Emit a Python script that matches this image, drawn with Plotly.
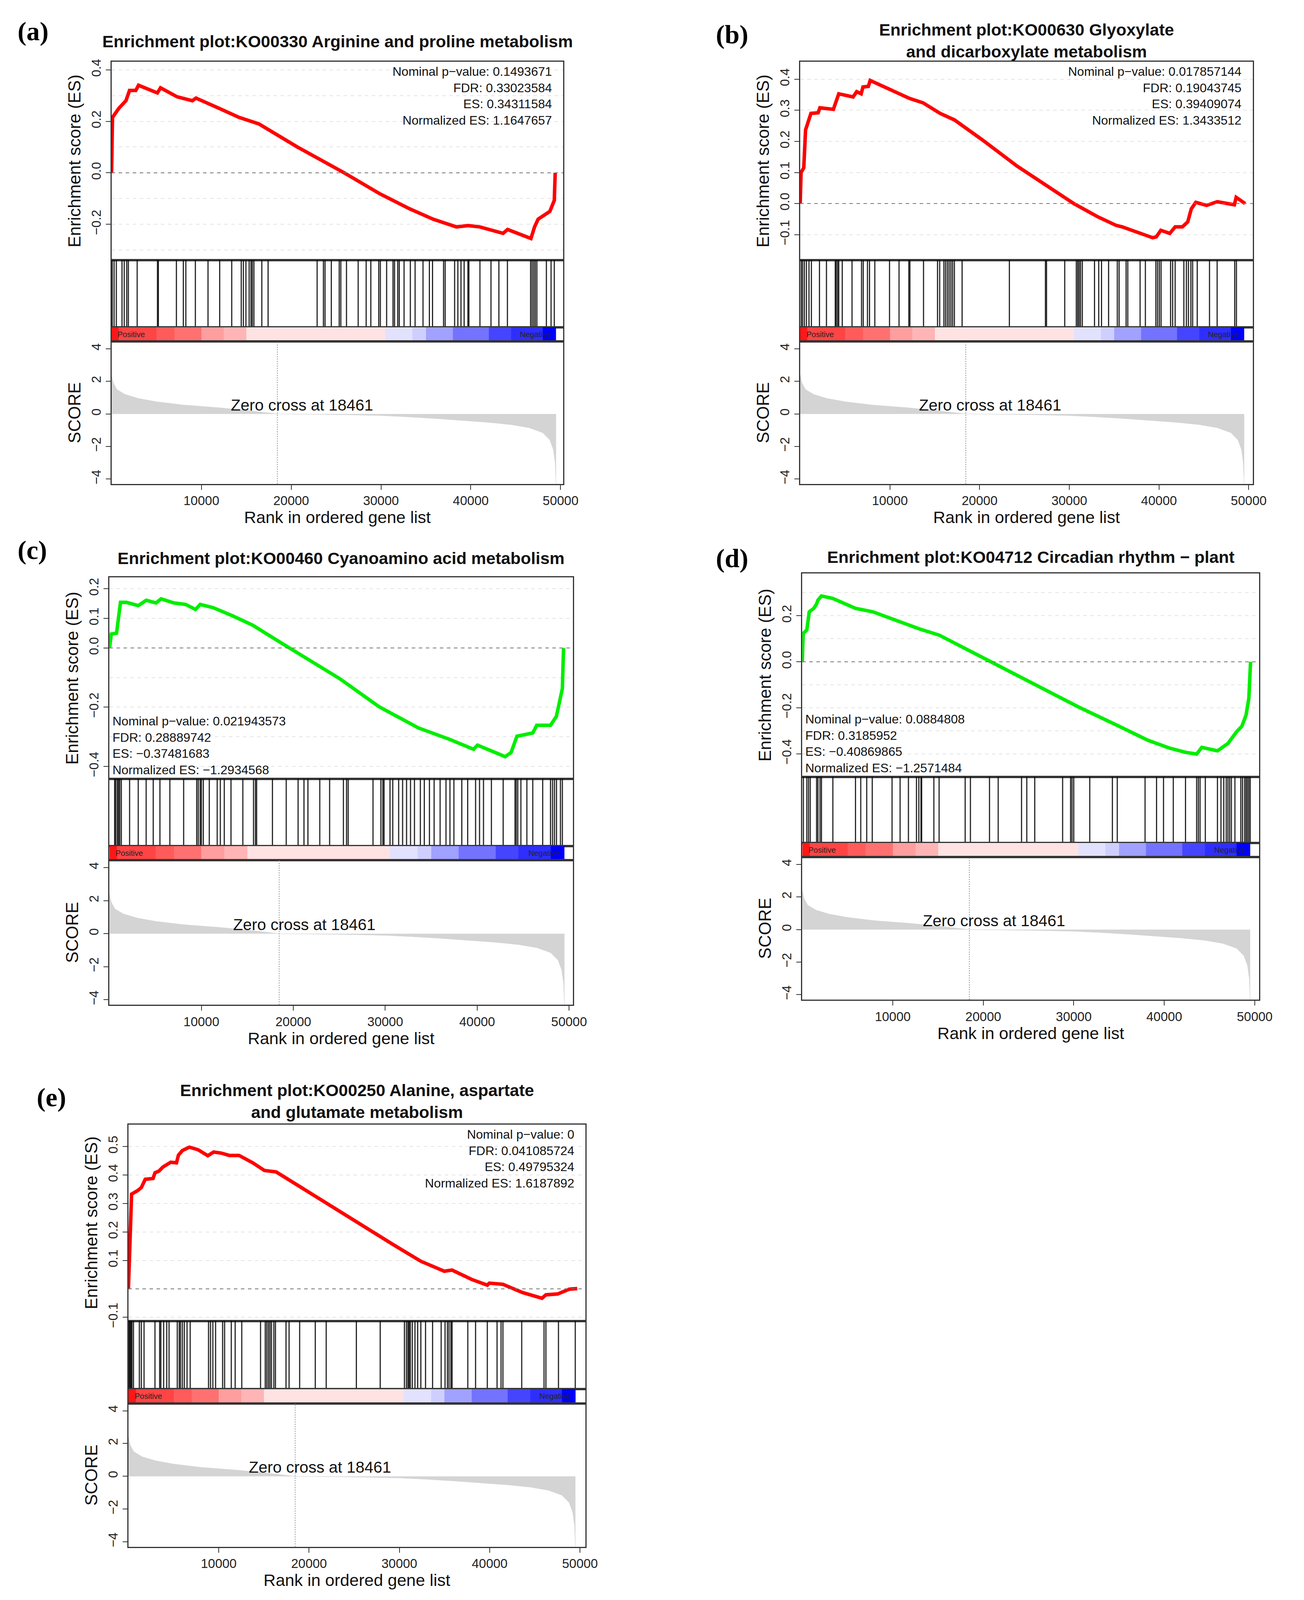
"""GSEA enrichment plots (a)-(e) rebuilt with plotly"""

import plotly.graph_objects as go

# ---- data ----
es_rank_a = [0, 100, 800, 1600, 2000, 2700, 3000, 5100, 5450, 7300, 9000, 9400, 12000, 14200, 16400, 20700, 25900, 29800,
             33200, 35800, 37100, 38400, 39700, 41000, 43600, 44100, 46700, 47100, 47500, 48800, 49300, 49400]
es_val_a = [0, 0.215, 0.25, 0.28, 0.32, 0.32, 0.34, 0.31, 0.33, 0.295, 0.28, 0.29, 0.25, 0.215, 0.19, 0.10, 0, -0.08,
            -0.14, -0.18, -0.195, -0.21, -0.205, -0.21, -0.235, -0.22, -0.255, -0.21, -0.18, -0.15, -0.107, 0]
hits_a = [70, 280, 530, 1160, 1410, 1690, 1870, 2850, 5110, 5210, 7220, 7990, 8270, 9330, 10740, 12040, 13380, 14440,
          14680, 14960, 15320, 15530, 15670, 15850, 16730, 17430, 22890, 23590, 23770, 24470, 25350, 25530, 26160,
          27460, 28350, 28870, 29750, 29930, 30630, 31340, 31510, 31870, 32040, 32570, 33270, 33800, 34680, 35390,
          35740, 36970, 37150, 38200, 38560, 38910, 39260, 39680, 39790, 41020, 42250, 43130, 44080, 46660, 46830,
          47010, 47180, 47360, 48420, 48940, 49300]

es_rank_b = [0, 100, 400, 600, 1200, 2000, 2200, 3700, 4300, 5900, 6300, 6800, 7000, 7600, 7800, 8600, 10200, 12200,
             13700, 15600, 17200, 20300, 24200, 28100, 30500, 33200, 35200, 35900, 37900, 39300, 39700, 40200, 41200,
             41800, 42600, 43200, 43600, 44100, 45300, 46500, 48400, 48600, 49600]
es_val_b = [0, 0.1, 0.115, 0.237, 0.29, 0.292, 0.308, 0.303, 0.353, 0.343, 0.36, 0.353, 0.375, 0.377, 0.396, 0.385,
            0.364, 0.338, 0.324, 0.29, 0.269, 0.205, 0.12, 0.047, 0, -0.043, -0.07, -0.075, -0.096, -0.11, -0.107,
            -0.086, -0.096, -0.075, -0.075, -0.059, -0.017, 0.004, -0.006, 0.006, -0.004, 0.02, 0]
hits_b = [120, 270, 470, 700, 980, 1250, 2150, 2930, 3910, 4020, 4180, 4300, 4690, 5780, 6840, 7030, 7500, 7730, 8320,
          9960, 11020, 12110, 12230, 13750, 15310, 15550, 16020, 16210, 16410, 16600, 16800, 16990, 17190, 18050,
          23320, 27340, 27460, 29490, 30780, 30940, 31090, 31250, 31450, 32810, 33280, 33590, 34380, 35350, 35550,
          36330, 36520, 37890, 38480, 39650, 39840, 40040, 40230, 41290, 41520, 41800, 42770, 43050, 43280, 43550,
          43750, 44260, 45630, 46480, 48440, 48630]

es_rank_c = [0, 200, 770, 1200, 1850, 3130, 4000, 5060, 5620, 7000, 8280, 9360, 9870, 11290, 13430, 15580, 18580,
             20090, 25020, 29310, 33600, 37040, 39610, 40040, 43050, 43690, 44330, 46050, 46480, 47980, 48620, 49270,
             49400]
es_val_c = [0, 0.047, 0.05, 0.154, 0.154, 0.143, 0.161, 0.152, 0.166, 0.152, 0.147, 0.13, 0.147, 0.136, 0.108, 0.077,
            0.019, -0.009, -0.103, -0.198, -0.27, -0.309, -0.342, -0.328, -0.367, -0.353, -0.298, -0.287, -0.261,
            -0.261, -0.231, -0.137, 0]
hits_c = [560, 690, 860, 990, 1120, 1290, 2190, 3130, 3990, 4760, 5490, 6570, 8070, 9490, 9660, 9870, 10000, 10210,
          10860, 11720, 12060, 12490, 13220, 14510, 15670, 15880, 16010, 17730, 19230, 20520, 21160, 21590, 22880,
          23950, 25450, 25790, 25970, 28670, 29530, 29740, 29870, 30520, 30820, 31460, 31890, 32320, 32750, 33180,
          33820, 34250, 34810, 35320, 35970, 36610, 37040, 37470, 38330, 38970, 39830, 40260, 40690, 41550, 42830,
          44120, 44250, 44420, 44760, 45410, 46050, 47130, 47980, 48200, 48410, 48630, 49060, 49270]

es_rank_d = [0, 100, 500, 770, 1270, 1580, 1730, 2120, 3380, 5880, 7810, 10690, 13000, 15120, 20120, 24730, 30500,
             34730, 38190, 40500, 42420, 43580, 44150, 45880, 47040, 48000, 48580, 49040, 49350, 49540]
es_val_d = [0, 0.123, 0.138, 0.217, 0.232, 0.251, 0.268, 0.286, 0.275, 0.232, 0.217, 0.174, 0.142, 0.116, 0.014,
            -0.08, -0.196, -0.275, -0.341, -0.374, -0.394, -0.401, -0.372, -0.387, -0.355, -0.304, -0.28, -0.232,
            -0.159, 0]
hits_d = [120, 500, 690, 880, 1580, 1730, 1960, 2120, 3380, 5880, 6460, 7120, 7730, 9920, 10810, 11730, 12620, 12880,
          13120, 13190, 14540, 15120, 18000, 18580, 20690, 21650, 24230, 24810, 25690, 28770, 29650, 29810, 30000,
          31770, 34270, 34810, 37880, 39150, 39920, 41000, 42350, 43580, 43770, 43960, 44540, 45880, 46270, 46580,
          46850, 47040, 47230, 47420, 47810, 48460, 48650, 48880, 49040, 49190, 49350, 49500]

es_rank_e = [0, 350, 1000, 1430, 1860, 2730, 2940, 3380, 3810, 4680, 5320, 5540, 5970, 6750, 7710, 8790, 9440, 10300,
             11170, 12250, 13770, 15060, 16360, 18530, 22860, 29350, 32380, 34980, 35840, 38010, 39740, 39960, 41470,
             43640, 45800, 46230, 47530, 48830, 49700]
es_val_e = [0, 0.333, 0.345, 0.356, 0.385, 0.388, 0.408, 0.414, 0.428, 0.445, 0.443, 0.47, 0.486, 0.498, 0.489, 0.468,
            0.481, 0.477, 0.469, 0.469, 0.443, 0.416, 0.411, 0.368, 0.281, 0.155, 0.097, 0.062, 0.066, 0.033, 0.013,
            0.02, 0.016, -0.013, -0.033, -0.021, -0.018, -0.001, 0.001]
hits_e = [40, 130, 220, 300, 390, 560, 1210, 1430, 1730, 2940, 3460, 3590, 3900, 4240, 4500, 5410, 5630, 5760, 5970,
          6190, 6490, 6840, 8870, 9090, 9350, 9650, 10430, 10650, 11390, 11820, 12550, 14630, 15150, 15320, 15500,
          15670, 15840, 16100, 16280, 17450, 17790, 18960, 20690, 21900, 25240, 27880, 30560, 30780, 30950, 31080,
          31210, 31430, 31730, 32030, 32380, 32900, 33680, 34630, 35060, 35320, 35500, 35710, 35840, 37580, 38440,
          39740, 40820, 41260, 41470, 43550, 46020, 46230, 47620, 49480]

# ranked list metric (same in every panel)
score_rank = [0, 200, 600, 1500, 3000, 5000, 8000, 12000, 15000, 18461, 22000, 26000, 30000, 33000, 36000, 39000,
              42000, 44500, 46500, 48000, 48800, 49200, 49400, 49500]
score_val = [2.4, 1.9, 1.5, 1.2, 0.95, 0.75, 0.55, 0.38, 0.22, 0.0, -0.02, -0.05, -0.1, -0.18, -0.28, -0.4, -0.52,
             -0.66, -0.85, -1.15, -1.6, -2.2, -3.0, -4.3]

# colour bar under the hits (rank bin edges and metric level)
bar_edges = [0, 800, 5000, 7000, 10000, 12500, 15000, 30500, 33500, 35000, 38000, 42000, 44500, 48000, 49500]
bar_level = [5, 4, 3.5, 3, 2, 1.5, 0.5, -0.6, -1, -2, -3, -4, -4.5, -5.5]

x_ticks = [10000, 20000, 30000, 40000, 50000]
x_tick_text = ["10000", "20000", "30000", "40000", "50000"]

# display-pixel geometry (page 1224 x 1565 units)
panels = [
    dict(tag="(a)", tagxy=(30, 25), title="Enrichment plot:KO00330 Arginine and proline metabolism", ty=35,
         x0=103, x1=532, es=(55, 250), hit=316, cb=330, sc=470, xr=50300, yr=[-0.339, 0.431],
         ticks=[-0.2, 0, 0.2, 0.4], color="#ff0000", rank=es_rank_a, val=es_val_a, hits=hits_a,
         stats="Nominal p\u2212value: 0.1493671<br>FDR: 0.33023584<br>ES: 0.34311584<br>Normalized ES: 1.1647657",
         stat_top=True),
    dict(tag="(b)", tagxy=(693, 28), title="Enrichment plot:KO00630 Glyoxylate<br>and dicarboxylate metabolism", ty=34,
         x0=757, x1=1187, es=(55, 250), hit=316, cb=330, sc=470, xr=50470, yr=[-0.182, 0.456],
         ticks=[-0.1, 0, 0.1, 0.2, 0.3, 0.4], color="#ff0000", rank=es_rank_b, val=es_val_b, hits=hits_b,
         stats="Nominal p\u2212value: 0.017857144<br>FDR: 0.19043745<br>ES: 0.39409074<br>Normalized ES: 1.3433512",
         stat_top=True),
    dict(tag="(c)", tagxy=(30, 535), title="Enrichment plot:KO00460 Cyanoamino acid metabolism", ty=543,
         x0=101, x1=541, es=(562, 760), hit=826, cb=840, sc=982, xr=50400, yr=[-0.442, 0.238],
         ticks=[-0.4, -0.2, 0, 0.1, 0.2], color="#00ee00", rank=es_rank_c, val=es_val_c, hits=hits_c,
         stats="Nominal p\u2212value: 0.021943573<br>FDR: 0.28889742<br>ES: \u22120.37481683<br>Normalized ES: \u22121.2934568",
         stat_top=False),
    dict(tag="(d)", tagxy=(693, 543), title="Enrichment plot:KO04712 Circadian rhythm \u2212 plant", ty=542,
         x0=759, x1=1193, es=(558, 758), hit=823, cb=837, sc=977, xr=50500, yr=[-0.5, 0.384],
         ticks=[-0.4, -0.2, 0, 0.2], color="#00ee00", rank=es_rank_d, val=es_val_d, hits=hits_d,
         stats="Nominal p\u2212value: 0.0884808<br>FDR: 0.3185952<br>ES: \u22120.40869865<br>Normalized ES: \u22121.2571484",
         stat_top=False),
    dict(tag="(e)", tagxy=(48, 1073), title="Enrichment plot:KO00250 Alanine, aspartate<br>and glutamate metabolism", ty=1077,
         x0=119, x1=553, es=(1100, 1293), hit=1360, cb=1374, sc=1515, xr=50600, yr=[-0.113, 0.577],
         ticks=[-0.1, 0.1, 0.2, 0.3, 0.4, 0.5], color="#ff0000", rank=es_rank_e, val=es_val_e, hits=hits_e,
         stats="Nominal p\u2212value: 0<br>FDR: 0.041085724<br>ES: 0.49795324<br>Normalized ES: 1.6187892",
         stat_top=True),
]

# the browser shows a little less than the full window height, keep everything inside
W, H = 3339, 4100
PW, PH = 1224.0, 1565.0
FONT = "Liberation Sans, Arial, sans-serif"


def fx(v):
    return v / PW


def fy(v):
    return 1 - v / PH


fig = go.Figure()
layout = {}
annotations = []
shapes = []
n = 0

box = dict(showline=True, linecolor="#333333", linewidth=3, mirror=True, zeroline=False)
tickfont = dict(family=FONT, size=33, color="#222222")

for p in panels:
    ids = [n + 1, n + 2, n + 3, n + 4]  # ES, hits, colour bar, score
    n += 4
    dom_x = [fx(p["x0"]), fx(p["x1"])]
    rows = [(p["es"][0], p["es"][1]), (p["es"][1], p["hit"]), (p["hit"], p["cb"]), (p["cb"], p["sc"])]
    for k, (i, (top, bot)) in enumerate(zip(ids, rows)):
        xa = dict(domain=dom_x, range=[0, p["xr"]], anchor="y%d" % i, showgrid=False, showticklabels=False,
                  ticks="", **box)
        ya = dict(domain=[fy(bot), fy(top)], anchor="x%d" % i, showgrid=False, showticklabels=False, ticks="", **box)
        if k == 0:
            ya.update(range=p["yr"], tickvals=p["ticks"], tickformat=".1f", showticklabels=True, ticks="outside",
                      ticklen=12, tickwidth=2, tickcolor="#333333", tickangle=-90, tickfont=tickfont,
                      showgrid=True, gridcolor="#e4e4e4", griddash="dash", gridwidth=2,
                      minor=dict(dtick=0.1, tick0=0, showgrid=True, gridcolor="#e4e4e4", griddash="dash", gridwidth=2),
                      title=dict(text="Enrichment score (ES)", font=dict(family=FONT, size=44, color="#111111"),
                                 standoff=8))
        elif k == 3:
            ya.update(range=[-4.3, 4.45], tickvals=[-4, -2, 0, 2, 4], showticklabels=True, ticks="outside",
                      ticklen=12, tickwidth=2, tickcolor="#333333", tickangle=-90, tickfont=tickfont,
                      title=dict(text="SCORE", font=dict(family=FONT, size=44, color="#111111"), standoff=8))
            xa.update(tickvals=x_ticks, ticktext=x_tick_text, showticklabels=True, ticks="outside",
                      ticklen=12, tickwidth=2, tickcolor="#333333", tickfont=tickfont,
                      title=dict(text="Rank in ordered gene list", font=dict(family=FONT, size=43, color="#111111"),
                                 standoff=6))
        else:
            ya.update(range=[0, 1])
        layout["xaxis%d" % i] = xa
        layout["yaxis%d" % i] = ya

    e, h, c, s = ids
    # running enrichment score
    fig.add_trace(go.Scatter(x=p["rank"], y=p["val"], mode="lines", xaxis="x%d" % e, yaxis="y%d" % e,
                             line=dict(color=p["color"], width=9), showlegend=False))
    shapes.append(dict(type="line", xref="x%d" % e, yref="y%d" % e, x0=0, x1=p["xr"], y0=0, y1=0,
                       line=dict(color="#777777", width=2, dash="dash")))
    # hit lines
    hx, hy = [], []
    for r in p["hits"]:
        hx += [r, r, None]
        hy += [0, 1, None]
    fig.add_trace(go.Scatter(x=hx, y=hy, mode="lines", xaxis="x%d" % h, yaxis="y%d" % h,
                             line=dict(color="rgba(0,0,0,0.85)", width=3), showlegend=False))
    # colour bar
    fig.add_trace(go.Heatmap(x=bar_edges, y=[0, 1], z=[bar_level], xaxis="x%d" % c, yaxis="y%d" % c,
                             zmin=-5.5, zmax=5.5, showscale=False,
                             colorscale=[[0, "#0000ff"], [0.45, "#e4e4ff"], [0.5, "#ffffff"], [0.55, "#ffe0e0"],
                                         [1, "#ff0000"]]))
    annotations.append(dict(text="Positive", xref="x%d" % c, yref="y%d" % c, x=600, y=0.5, xanchor="left",
                            showarrow=False, font=dict(family=FONT, size=20, color="#222222")))
    annotations.append(dict(text="Negative", xref="x%d" % c, yref="y%d" % c, x=49000, y=0.5, xanchor="right",
                            showarrow=False, font=dict(family=FONT, size=20, color="#222222")))
    # ranked metric
    fig.add_trace(go.Scatter(x=score_rank, y=score_val, mode="lines", fill="tozeroy", fillcolor="#d4d4d4",
                             line=dict(color="#d4d4d4", width=1), xaxis="x%d" % s, yaxis="y%d" % s,
                             showlegend=False))
    shapes.append(dict(type="line", xref="x%d" % s, yref="y%d domain" % s, x0=18461, x1=18461, y0=0, y1=1,
                       line=dict(color="#999999", width=2, dash="dot")))
    annotations.append(dict(text="Zero cross at 18461", xref="x%d" % s, yref="y%d" % s, x=21200, y=0.55,
                            showarrow=False, font=dict(family=FONT, size=41, color="#111111")))
    # stats text
    if p["stat_top"]:
        annotations.append(dict(text=p["stats"], xref="paper", yref="paper", x=fx(p["x1"] - 10),
                                y=fy(p["es"][0] + 2), xanchor="right", yanchor="top", align="right",
                                showarrow=False, font=dict(family=FONT, size=32, color="#111111")))
    else:
        annotations.append(dict(text=p["stats"], xref="paper", yref="paper", x=fx(p["x0"] + 2),
                                y=fy(p["es"][1] - 1), xanchor="left", yanchor="bottom", align="left",
                                showarrow=False, font=dict(family=FONT, size=32, color="#111111")))
    # title and panel tag
    annotations.append(dict(text="<b>%s</b>" % p["title"], xref="paper", yref="paper",
                            x=fx((p["x0"] + p["x1"]) / 2), y=fy(p["ty"]), xanchor="center", yanchor="middle",
                            showarrow=False, font=dict(family=FONT, size=43, color="#111111")))
    annotations.append(dict(text="<b>%s</b>" % p["tag"], xref="paper", yref="paper", x=fx(p["tagxy"][0] - 17),
                            y=fy(p["tagxy"][1]), xanchor="left", yanchor="middle", showarrow=False,
                            font=dict(family="Liberation Serif, serif", size=68, color="#000000")))

fig.update_layout(**layout)
fig.update_layout(width=W, height=H, margin=dict(l=0, r=0, t=0, b=0), plot_bgcolor="white",
                  paper_bgcolor="white", annotations=annotations, shapes=shapes)

fig.write_html("out.html")
